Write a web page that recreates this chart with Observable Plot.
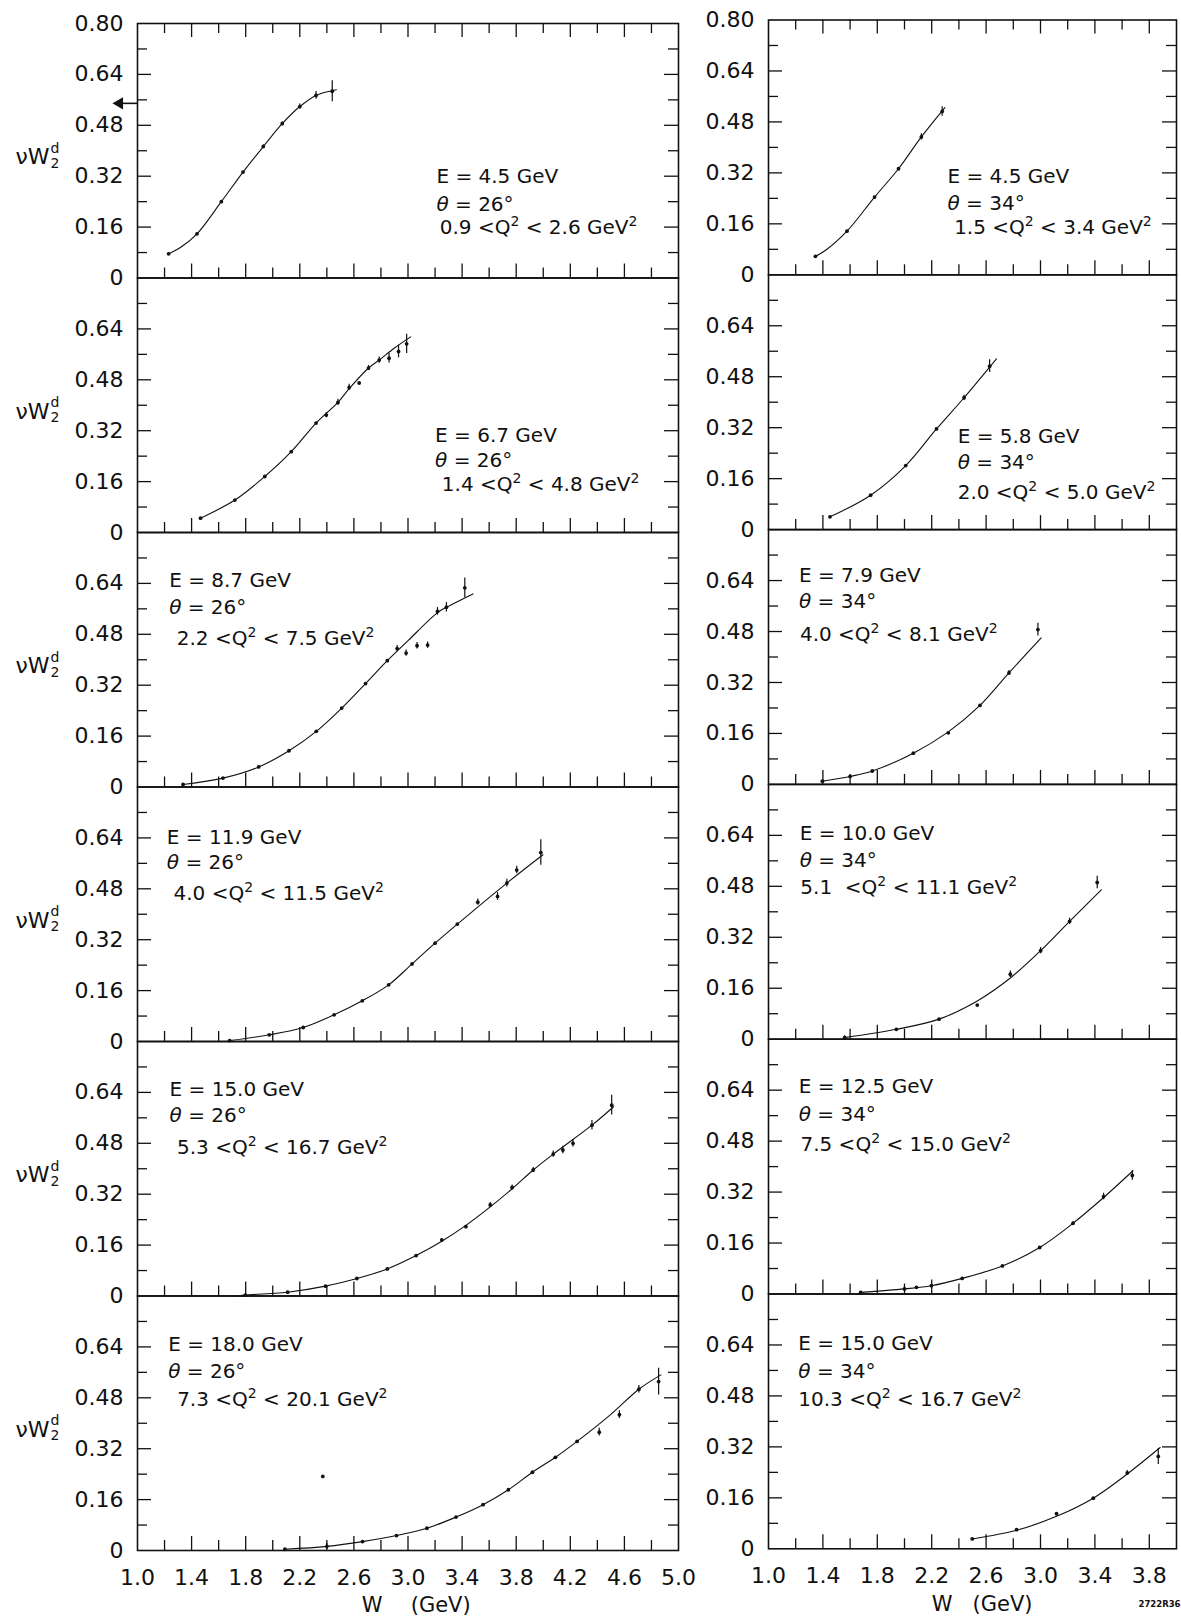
<!DOCTYPE html>
<html>
<head>
<meta charset="utf-8">
<script src="https://cdn.jsdelivr.net/npm/d3@7"></script>
<script src="https://cdn.jsdelivr.net/npm/@observablehq/plot@0.6"></script>
<style>
  html, body { margin: 0; padding: 0; background: #fff; }
  #page { position: relative; width: 1181px; height: 1616px; background: #fff; overflow: hidden; }
  #page svg { position: absolute; top: 0; }
</style>
</head>
<body>
<div id="page"></div>
<script>
// ---------------------------------------------------------------
// Deuteron structure function nu*W2 vs W, two spectrometer angles
// Left column: theta = 26 deg, right column: theta = 34 deg
// ---------------------------------------------------------------

// Panel labels
const energiesLeft = ["4.5", "6.7", "8.7", "11.9", "15.0", "18.0"];
const energiesRight = ["4.5", "5.8", "7.9", "10.0", "12.5", "15.0"];
const thetaLeft = "26";
const thetaRight = "34";
const q2Left = ["0.9 <Q² < 2.6 GeV²", "1.4 <Q² < 4.8 GeV²", "2.2 <Q² < 7.5 GeV²",
                "4.0 <Q² < 11.5 GeV²", "5.3 <Q² < 16.7 GeV²", "7.3 <Q² < 20.1 GeV²"];
const q2Right = ["1.5 <Q² < 3.4 GeV²", "2.0 <Q² < 5.0 GeV²", "4.0 <Q² < 8.1 GeV²",
                 "5.1  <Q² < 11.1 GeV²", "7.5 <Q² < 15.0 GeV²", "10.3 <Q² < 16.7 GeV²"];

// Measured points (W in GeV, nu*W2, error), one inner list per panel
const wLeft = [
  [1.23, 1.44, 1.62, 1.78, 1.93, 2.07, 2.20, 2.32, 2.44],
  [1.466, 1.72, 1.941, 2.137, 2.32, 2.396, 2.482, 2.565, 2.639, 2.708, 2.787, 2.86, 2.93, 2.99],
  [1.337, 1.632, 1.896, 2.12, 2.322, 2.51, 2.686, 2.847, 2.92, 2.986, 3.067, 3.145, 3.218, 3.284, 3.42],
  [1.681, 1.974, 2.225, 2.454, 2.662, 2.857, 3.03, 3.2, 3.365, 3.516, 3.662, 3.731, 3.804, 3.982],
  [1.797, 2.11, 2.39, 2.622, 2.847, 3.06, 3.25, 3.428, 3.608, 3.77, 3.926, 4.074, 4.145, 4.22, 4.36, 4.506],
  [2.09, 2.37, 2.4, 2.664, 2.915, 3.14, 3.355, 3.555, 3.742, 3.92, 4.09, 4.25, 4.414, 4.563, 4.707, 4.853]
];
const fLeft = [
  [0.076, 0.139, 0.240, 0.333, 0.413, 0.485, 0.539, 0.574, 0.587],
  [0.045, 0.102, 0.176, 0.254, 0.344, 0.369, 0.409, 0.456, 0.470, 0.517, 0.542, 0.548, 0.569, 0.593],
  [0.008, 0.028, 0.063, 0.114, 0.175, 0.248, 0.325, 0.397, 0.435, 0.421, 0.444, 0.446, 0.552, 0.565, 0.626],
  [0.003, 0.021, 0.044, 0.084, 0.128, 0.178, 0.244, 0.309, 0.369, 0.438, 0.456, 0.498, 0.539, 0.594],
  [0.003, 0.012, 0.031, 0.055, 0.085, 0.127, 0.176, 0.218, 0.286, 0.341, 0.396, 0.446, 0.459, 0.48, 0.537, 0.6],
  [0.004, 0.233, 0.013, 0.028, 0.047, 0.07, 0.105, 0.144, 0.191, 0.246, 0.293, 0.343, 0.372, 0.427, 0.507, 0.531]
];
const errLeft = [
  [0, 0, 0, 0, 0.006, 0.006, 0.008, 0.012, 0.033],
  [0, 0, 0, 0, 0, 0.008, 0.01, 0.01, 0, 0.008, 0.01, 0.015, 0.02, 0.03],
  [0, 0, 0, 0, 0, 0, 0, 0, 0.01, 0.01, 0.01, 0.01, 0.012, 0.015, 0.031],
  [0, 0, 0, 0, 0, 0, 0, 0, 0, 0.01, 0.012, 0.012, 0.012, 0.04],
  [0, 0, 0, 0, 0, 0, 0, 0, 0.008, 0.008, 0.008, 0.01, 0.012, 0.012, 0.015, 0.031],
  [0, 0, 0.01, 0, 0, 0, 0, 0, 0, 0, 0, 0, 0.012, 0.012, 0.012, 0.042]
];
const wRight = [
  [1.345, 1.577, 1.78, 1.956, 2.124, 2.277],
  [1.452, 1.751, 2.009, 2.235, 2.438, 2.626],
  [1.396, 1.60, 1.763, 2.065, 2.322, 2.555, 2.768, 2.981],
  [1.56, 1.94, 2.254, 2.535, 2.778, 3.001, 3.214, 3.417],
  [1.678, 2.0, 2.088, 2.198, 2.424, 2.72, 2.994, 3.239, 3.464, 3.675],
  [2.498, 2.824, 3.118, 3.388, 3.638, 3.866]
];
const fRight = [
  [0.058, 0.137, 0.244, 0.333, 0.433, 0.513],
  [0.04, 0.108, 0.201, 0.316, 0.414, 0.513],
  [0.010, 0.025, 0.042, 0.098, 0.162, 0.248, 0.350, 0.486],
  [0.005, 0.031, 0.063, 0.107, 0.204, 0.278, 0.37, 0.492],
  [0.005, 0.016, 0.021, 0.026, 0.049, 0.088, 0.146, 0.222, 0.306, 0.372],
  [0.031, 0.06, 0.11, 0.159, 0.238, 0.29]
];
const errRight = [
  [0, 0, 0, 0, 0.01, 0.015],
  [0, 0, 0, 0, 0.008, 0.02],
  [0, 0, 0, 0, 0, 0, 0.008, 0.02],
  [0.006, 0, 0, 0, 0.01, 0.01, 0.01, 0.02],
  [0, 0.006, 0, 0, 0, 0, 0, 0.006, 0.01, 0.015],
  [0, 0, 0, 0, 0.008, 0.025]
];

// Smooth fitted curve through each panel (knots along the drawn fit)
const fitWLeft = [
  [1.23, 1.33, 1.44, 1.62, 1.78, 1.93, 2.07, 2.20, 2.32, 2.47],
  [1.466, 1.72, 1.941, 2.137, 2.32, 2.482, 2.565, 2.708, 2.787, 2.90, 3.02],
  [1.337, 1.632, 1.896, 2.12, 2.322, 2.51, 2.686, 2.847, 3.0, 3.218, 3.284, 3.48],
  [1.681, 1.974, 2.225, 2.454, 2.662, 2.857, 3.03, 3.2, 3.365, 3.731, 3.998],
  [1.75, 1.797, 2.11, 2.39, 2.622, 2.847, 3.06, 3.25, 3.428, 3.608, 3.77, 3.926, 4.074, 4.36, 4.52],
  [2.09, 2.4, 2.664, 2.915, 3.14, 3.355, 3.555, 3.742, 3.92, 4.09, 4.25, 4.5, 4.707, 4.87]
];
const fitFLeft = [
  [0.076, 0.100, 0.139, 0.240, 0.333, 0.413, 0.485, 0.539, 0.574, 0.592],
  [0.045, 0.102, 0.176, 0.254, 0.344, 0.409, 0.452, 0.517, 0.542, 0.58, 0.615],
  [0.008, 0.028, 0.063, 0.114, 0.175, 0.248, 0.325, 0.397, 0.46, 0.548, 0.565, 0.607],
  [0.003, 0.021, 0.044, 0.084, 0.128, 0.178, 0.244, 0.309, 0.369, 0.498, 0.587],
  [0.001, 0.003, 0.012, 0.031, 0.055, 0.085, 0.127, 0.172, 0.222, 0.28, 0.337, 0.396, 0.446, 0.537, 0.595],
  [0.004, 0.013, 0.028, 0.047, 0.07, 0.105, 0.144, 0.191, 0.246, 0.293, 0.343, 0.428, 0.507, 0.552]
];
const fitWRight = [
  [1.345, 1.42, 1.577, 1.78, 1.956, 2.124, 2.297],
  [1.452, 1.751, 2.009, 2.235, 2.438, 2.676],
  [1.396, 1.60, 1.763, 2.065, 2.322, 2.555, 2.768, 3.005],
  [1.56, 1.94, 2.254, 2.535, 2.778, 3.001, 3.214, 3.447],
  [1.678, 2.0, 2.198, 2.424, 2.72, 2.994, 3.239, 3.464, 3.68],
  [2.498, 2.824, 3.118, 3.388, 3.638, 3.88]
];
const fitFRight = [
  [0.058, 0.077, 0.137, 0.244, 0.333, 0.433, 0.525],
  [0.04, 0.108, 0.201, 0.316, 0.414, 0.536],
  [0.010, 0.025, 0.042, 0.098, 0.165, 0.248, 0.350, 0.46],
  [0.005, 0.031, 0.063, 0.12, 0.192, 0.278, 0.37, 0.469],
  [0.005, 0.016, 0.026, 0.049, 0.088, 0.146, 0.222, 0.303, 0.387],
  [0.031, 0.058, 0.102, 0.159, 0.235, 0.318]
];

// Hand-drawn pointer at the left edge of the first 26-degree panel
const pointerLevel = 0.549;

// Axis ticks and labels
const yMinorTicks = [0.08, 0.24, 0.40, 0.56, 0.72];
const yMajorTicks = [0.16, 0.32, 0.48, 0.64];
const yLabelValues = [0, 0.16, 0.32, 0.48, 0.64];
const yLabelText = ["0", "0.16", "0.32", "0.48", "0.64"];
const yTopValue = 0.8;
const yTopText = "0.80";
const xMinorLeft = [1.2, 1.6, 2.0, 2.4, 2.8, 3.2, 3.6, 4.0, 4.4, 4.8];
const xMajorLeft = [1.4, 1.8, 2.2, 2.6, 3.0, 3.4, 3.8, 4.2, 4.6];
const xLabelsLeft = [1.0, 1.4, 1.8, 2.2, 2.6, 3.0, 3.4, 3.8, 4.2, 4.6, 5.0];
const xMinorRight = [1.2, 1.6, 2.0, 2.4, 2.8, 3.2, 3.6];
const xMajorRight = [1.4, 1.8, 2.2, 2.6, 3.0, 3.4, 3.8];
const xLabelsRight = [1.0, 1.4, 1.8, 2.2, 2.6, 3.0, 3.4, 3.8];

// ---------------------------------------------------------------
// Layout (pixels / positions of the in-panel annotations)
// ---------------------------------------------------------------
const FONT = "DejaVu Sans";
const INK = "#111";
const NOTE_SIZE = 20;
// [x of first two lines, y of E line, y of theta line, y of Q2 line, x of Q2 line]
const notesLeft = [
  [3.21, 0.318, 0.232, 0.160, 3.235],
  [3.20, 0.306, 0.226, 0.150, 3.25],
  [1.234, 0.649, 0.563, 0.468, 1.29],
  [1.217, 0.642, 0.561, 0.464, 1.266],
  [1.237, 0.648, 0.566, 0.467, 1.292],
  [1.227, 0.647, 0.563, 0.474, 1.293]
];
const notesRight = [
  [2.316, 0.309, 0.222, 0.148, 2.365],
  [2.391, 0.293, 0.209, 0.115, 2.391],
  [1.224, 0.655, 0.573, 0.471, 1.231],
  [1.229, 0.646, 0.561, 0.477, 1.234],
  [1.222, 0.652, 0.563, 0.468, 1.235],
  [1.219, 0.644, 0.555, 0.469, 1.219]
];

const rows = d3.range(6);
const MAJOR = 14, MINOR = 10;
const SVGNS = "http://www.w3.org/2000/svg";

// Turn "²" into a raised, smaller "2" and slant the theta, as in hand lettering
function dressText(svg) {
  svg.querySelectorAll("text").forEach(t => {
    const s = t.textContent;
    if (!s.includes("²") && !s.includes("θ")) return;
    const size = parseFloat(t.getAttribute("font-size") || t.parentNode.getAttribute("font-size")) || NOTE_SIZE;
    const lift = Math.round(size * 0.42);
    t.textContent = "";
    let raised = false;
    for (const piece of s.split(/(²|θ)/)) {
      if (!piece) continue;
      const ts = document.createElementNS(SVGNS, "tspan");
      if (piece === "²") {
        ts.textContent = "2";
        ts.setAttribute("font-size", Math.round(size * 0.72));
        ts.setAttribute("dy", -lift);
        raised = true;
      } else {
        ts.textContent = piece;
        if (piece === "θ") ts.setAttribute("font-style", "italic");
        if (raised) { ts.setAttribute("dy", lift); raised = false; }
      }
      t.appendChild(ts);
    }
  });
}

function column(cfg) {
  const plotW = cfg.width - cfg.marginLeft - cfg.marginRight;
  const band = cfg.band;
  const height = 1616;
  const marginBottom = height - cfg.marginTop - 6 * band;

  const points = rows.flatMap(r => cfg.w[r].map((w, i) => ({row: r, w, f: cfg.f[r][i], e: cfg.err[r][i]})));
  const bars = points.filter(d => d.e > 0);
  const fit = rows.flatMap(r => cfg.fitW[r].map((w, i) => ({row: r, w, f: cfg.fitF[r][i]})));

  const yMinor = rows.flatMap(r => yMinorTicks.map(v => ({row: r, v})));
  const yMajor = rows.flatMap(r => yMajorTicks.map(v => ({row: r, v})));
  const xMinor = rows.flatMap(r => cfg.xMinor.map(w => ({row: r, w})));
  const xMajor = rows.flatMap(r => cfg.xMajor.map(w => ({row: r, w})));
  const topMinor = cfg.xMinor.map(w => ({row: 0, w}));
  const topMajor = cfg.xMajor.map(w => ({row: 0, w}));

  const yLabels = rows.flatMap(r => yLabelValues.map((v, i) => ({row: r, v, t: yLabelText[i]})))
    .concat([{row: 0, v: yTopValue, t: yTopText}]);
  const xLabels = cfg.xLabels.map(w => ({row: 5, w, t: w.toFixed(1)}));

  const notes = rows.map(r => ({
    row: r,
    x: cfg.notes[r][0], vE: cfg.notes[r][1], vT: cfg.notes[r][2], vQ: cfg.notes[r][3], xQ: cfg.notes[r][4],
    E: `E = ${cfg.energies[r]} GeV`,
    T: `θ = ${cfg.theta}°`,
    Q: cfg.q2[r]
  }));

  const textBase = {fy: "row", fontFamily: FONT, fill: INK, textAnchor: "start", lineAnchor: "middle", fontSize: NOTE_SIZE};

  const marks = [
    Plot.frame({stroke: INK, strokeWidth: 1.6}),
    // inward ticks on the left and right edges of every panel
    Plot.ruleY(yMinor, {fy: "row", y: "v", insetRight: plotW - MINOR, stroke: INK, strokeWidth: 1.3}),
    Plot.ruleY(yMajor, {fy: "row", y: "v", insetRight: plotW - MAJOR, stroke: INK, strokeWidth: 1.3}),
    Plot.ruleY(yMinor, {fy: "row", y: "v", insetLeft: plotW - MINOR, stroke: INK, strokeWidth: 1.3}),
    Plot.ruleY(yMajor, {fy: "row", y: "v", insetLeft: plotW - MAJOR, stroke: INK, strokeWidth: 1.3}),
    // upward ticks on each panel's baseline, downward ticks along the top edge
    Plot.ruleX(xMinor, {fy: "row", x: "w", insetTop: band - MINOR, stroke: INK, strokeWidth: 1.3}),
    Plot.ruleX(xMajor, {fy: "row", x: "w", insetTop: band - MAJOR, stroke: INK, strokeWidth: 1.3}),
    Plot.ruleX(topMinor, {fy: "row", x: "w", insetBottom: band - MINOR, stroke: INK, strokeWidth: 1.3}),
    Plot.ruleX(topMajor, {fy: "row", x: "w", insetBottom: band - MAJOR, stroke: INK, strokeWidth: 1.3}),
    // fitted curve, error bars and data points
    Plot.line(fit, {fy: "row", x: "w", y: "f", curve: "catmull-rom", stroke: INK, strokeWidth: 1.1}),
    Plot.ruleX(bars, {fy: "row", x: "w", y1: d => d.f - d.e, y2: d => d.f + d.e, stroke: INK, strokeWidth: 1.2}),
    Plot.dot(points, {fy: "row", x: "w", y: "f", r: 1.9, fill: INK, stroke: "none"}),
    // tick labels
    Plot.text(yLabels, {fy: "row", y: "v", text: "t", frameAnchor: "left", dx: -14, textAnchor: "end",
      lineAnchor: "middle", fontFamily: FONT, fontSize: 22, fill: INK}),
    Plot.text(xLabels, {fy: "row", x: "w", text: "t", frameAnchor: "bottom", dy: 27, lineAnchor: "middle",
      fontFamily: FONT, fontSize: 22, fill: INK}),
    Plot.text([{row: 5, w: cfg.wTitleX}], {fy: "row", x: "w", text: () => "W", frameAnchor: "bottom", dy: 55,
      lineAnchor: "middle", fontFamily: FONT, fontSize: 21, fill: INK}),
    Plot.text([{row: 5, w: cfg.wUnitX}], {fy: "row", x: "w", text: () => "(GeV)", frameAnchor: "bottom", dy: 55,
      textAnchor: "start", lineAnchor: "middle", fontFamily: FONT, fontSize: 21, fill: INK}),
    // panel annotations
    Plot.text(notes, {...textBase, x: "x", y: "vE", text: "E"}),
    Plot.text(notes, {...textBase, x: "x", y: "vT", text: "T"}),
    Plot.text(notes, {...textBase, x: "xQ", y: "vQ", text: "Q"})
  ];

  if (cfg.yTitle) {
    const t = rows.map(r => ({row: r, v: 0.38}));
    marks.push(
      Plot.text(t, {fy: "row", y: "v", frameAnchor: "left", dx: -122, text: () => "νW", textAnchor: "start",
        lineAnchor: "middle", fontFamily: FONT, fontSize: 22, fill: INK}),
      Plot.text(t, {fy: "row", y: "v", frameAnchor: "left", dx: -87, dy: -9, text: () => "d", textAnchor: "start",
        lineAnchor: "middle", fontFamily: FONT, fontSize: 14, fill: INK}),
      Plot.text(t, {fy: "row", y: "v", frameAnchor: "left", dx: -87, dy: 6, text: () => "2", textAnchor: "start",
        lineAnchor: "middle", fontFamily: FONT, fontSize: 14, fill: INK})
    );
  }
  if (cfg.pointer != null) {
    // small arrowhead just outside the left edge, with a stroke running into the frame
    const p = [{row: 0, v: cfg.pointer}];
    marks.push(
      Plot.ruleY(p, {fy: "row", y: "v", insetRight: plotW - 16, dx: -16, stroke: INK, strokeWidth: 1.6}),
      Plot.dot(p, {fy: "row", y: "v", frameAnchor: "left", dx: -18, symbol: "triangle", rotate: -90, r: 3.6,
        fill: INK, stroke: INK})
    );
  }
  if (cfg.code) {
    marks.push(Plot.text([{row: 5}], {fy: "row", frameAnchor: "bottom-right", dx: 4, dy: 55, text: () => cfg.code,
      textAnchor: "end", lineAnchor: "middle", fontFamily: FONT, fontSize: 8.5, fontWeight: "bold", fill: INK}));
  }

  const svg = Plot.plot({
    width: cfg.width,
    height,
    marginTop: cfg.marginTop,
    marginBottom,
    marginLeft: cfg.marginLeft,
    marginRight: cfg.marginRight,
    style: {background: "transparent", overflow: "visible", fontFamily: FONT},
    x: {domain: cfg.xDomain, axis: null},
    y: {domain: [0, 0.8], axis: null},
    fy: {domain: rows, padding: 0, round: false, axis: null},
    marks
  });
  svg.style.left = cfg.left + "px";
  dressText(svg);
  return svg;
}

const page = document.getElementById("page");

page.appendChild(column({
  left: 0, width: 690, marginLeft: 137, marginRight: 12, marginTop: 23, band: 254.5,
  xDomain: [1, 5], xMinor: xMinorLeft, xMajor: xMajorLeft, xLabels: xLabelsLeft,
  w: wLeft, f: fLeft, err: errLeft, fitW: fitWLeft, fitF: fitFLeft,
  energies: energiesLeft, theta: thetaLeft, q2: q2Left, notes: notesLeft,
  wTitleX: 2.735, wUnitX: 3.02, yTitle: true, pointer: pointerLevel
}));

page.appendChild(column({
  left: 690, width: 491, marginLeft: 78, marginRight: 5, marginTop: 19.5, band: 254.8,
  xDomain: [1, 4], xMinor: xMinorRight, xMajor: xMajorRight, xLabels: xLabelsRight,
  w: wRight, f: fRight, err: errRight, fitW: fitWRight, fitF: fitFRight,
  energies: energiesRight, theta: thetaRight, q2: q2Right, notes: notesRight,
  wTitleX: 2.277, wUnitX: 2.5, code: "2722R36"
}));
</script>
</body>
</html>
